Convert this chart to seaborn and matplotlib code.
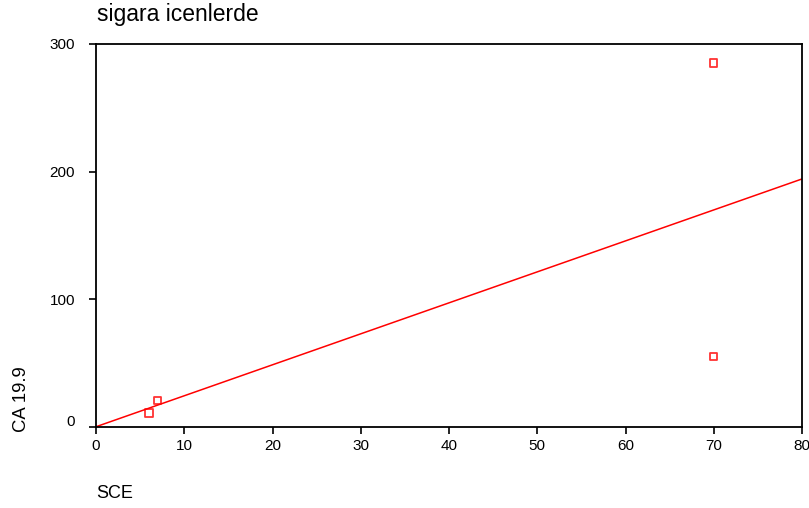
import numpy as np
import pandas as pd
import seaborn as sns
import matplotlib
matplotlib.use('Agg')
import matplotlib.pyplot as plt
from matplotlib.transforms import ScaledTranslation

# values
sce = [6, 7, 70, 70]
ca199 = [11, 21, 285, 55]
x_ticks = [0, 10, 20, 30, 40, 50, 60, 70, 80]
y_ticks = [0, 100, 200, 300]

df = pd.DataFrame({'SCE': sce, 'CA 19.9': ca199})

sns.set_style('white')
plt.rcParams['font.family'] = ['Liberation Sans', 'DejaVu Sans']
plt.rcParams['text.color'] = 'black'
plt.rcParams['xtick.color'] = 'black'
plt.rcParams['ytick.color'] = 'black'

fig = plt.figure(figsize=(8.09, 5.08), dpi=100)
ax = fig.add_axes([96 / 809, 1 - 427 / 508, 706 / 809, 383 / 508])
ax.set_xlim(0, 80)
ax.set_ylim(0, 300)

# fit line across the whole x range
sns.regplot(x='SCE', y='CA 19.9', data=df, ax=ax, ci=None, truncate=False,
            marker='s', color='red',
            scatter_kws={'facecolors': 'none', 'edgecolors': 'red', 's': 28, 'linewidths': 1.3},
            line_kws={'linewidth': 1.1})

ax.set_xlim(0, 80)
ax.set_ylim(0, 300)
ax.set_xticks(x_ticks)
ax.set_yticks(y_ticks)
ax.set_xlabel('')
ax.set_ylabel('')
ax.tick_params(direction='out', length=5, width=1.2, labelsize=11, colors='black',
               left=True, bottom=True)
ax.tick_params(axis='y', pad=10)
for s in ax.spines.values():
    s.set_visible(True)
    s.set_color('black')
    s.set_linewidth(1.3)

# the "0" on the y axis sits a little above its tick in the original
lab0 = ax.yaxis.get_majorticklabels()[0]
lab0.set_transform(lab0.get_transform() + ScaledTranslation(0, 0.07, fig.dpi_scale_trans))

# title and axis labels placed like the original
fig.text(97 / 809, 1 - 21 / 508, 'sigara icenlerde', fontsize=16.5, va='baseline', ha='left')
fig.text(96 / 809, 1 - 498 / 508, 'SCE', fontsize=13, va='baseline', ha='left')
fig.text(21.5 / 809, 1 - 432 / 508, 'CA 19.9', fontsize=13.3, rotation=90, va='bottom', ha='center')

fig.savefig('out.png', dpi=100)
